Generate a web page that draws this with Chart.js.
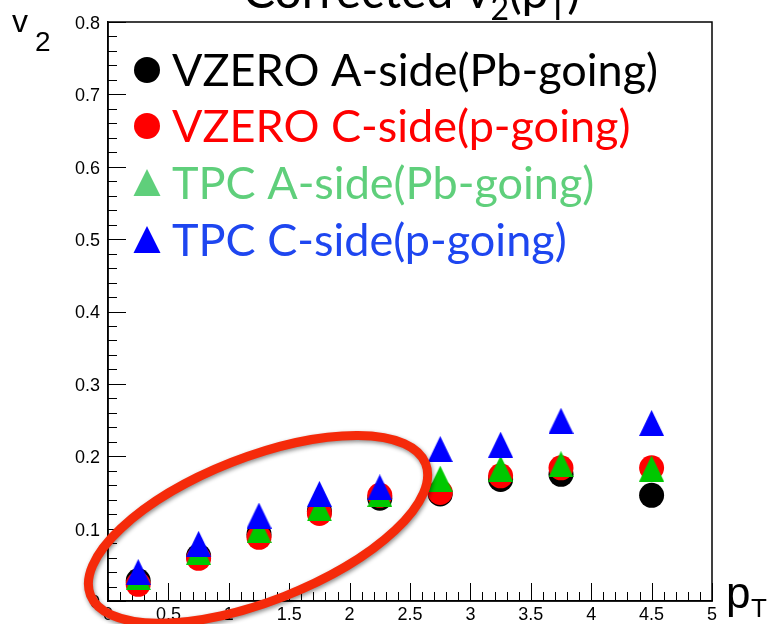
<!DOCTYPE html>
<html>
<head>
<meta charset="utf-8">
<title>Corrected v2(pT)</title>
<script src="https://cdn.jsdelivr.net/npm/chart.js@4.4.1/dist/chart.umd.min.js"></script>
<style>
  html, body { margin: 0; padding: 0; background: #fff; overflow: hidden; }
  canvas { display: block; }
</style>
</head>
<body>
<canvas id="c" width="769" height="624"></canvas>
<script>
// pT bin centres (GeV/c) and v2 per method
const ptBins   = [0.25, 0.75, 1.25, 1.75, 2.25, 2.75, 3.25, 3.75, 4.5];
const v2VzeroA = [0.028, 0.062, 0.092, 0.124, 0.142, 0.148, 0.168, 0.175, 0.146];
const v2VzeroC = [0.023, 0.059, 0.088, 0.121, 0.146, 0.150, 0.173, 0.184, 0.184];
const v2TpcA   = [0.033, 0.068, 0.098, 0.128, 0.148, 0.169, 0.183, 0.189, 0.183];
const v2TpcC   = [0.040, 0.079, 0.118, 0.148, 0.157, 0.210, 0.216, 0.249, 0.246];

const seriesLabels = [
  'VZERO A-side(Pb-going)',
  'VZERO C-side(p-going)',
  'TPC A-side(Pb-going)',
  'TPC C-side(p-going)'
];
const xTickLabels = ['0', '0.5', '1', '1.5', '2', '2.5', '3', '3.5', '4', '4.5', '5'];
const yTickLabels = ['0', '0.1', '0.2', '0.3', '0.4', '0.5', '0.6', '0.7', '0.8'];

// ---- marker sprites -------------------------------------------------------
function triangleSprite(color, w, h) {
  const cv = document.createElement('canvas');
  cv.width = w; cv.height = h;
  const g = cv.getContext('2d');
  g.fillStyle = color;
  g.beginPath();
  g.moveTo(w / 2, 0);
  g.lineTo(w, h);
  g.lineTo(0, h);
  g.closePath();
  g.fill();
  return cv;
}
const triGreen = triangleSprite('#00c800', 25, 26);
const triBlue  = triangleSprite('#0000ff', 25, 26);

const legendStyle = [
  { text: '#000000', marker: '#000000', shape: 'circle' },
  { text: '#ff0000', marker: '#ff0000', shape: 'circle' },
  { text: '#5fcf7b', marker: '#5fcf7b', shape: 'triangle' },
  { text: '#1e46f0', marker: '#0000ff', shape: 'triangle' }
];

const toPoints = ys => ptBins.map((x, i) => ({ x, y: ys[i] }));

// ---- frame and inward ticks ----------------------------------------------
const framePlugin = {
  id: 'frame',
  beforeDatasetsDraw(chart) {
    const { ctx, chartArea: a, scales: { x, y } } = chart;
    ctx.save();
    ctx.strokeStyle = '#000';
    ctx.lineWidth = 1;
    // x ticks: major every 0.5, minor every 0.1
    for (let i = 0; i <= 50; i++) {
      const px = Math.round(x.getPixelForValue(i / 10)) + 0.5;
      const len = (i % 5 === 0) ? 18 : 9;
      ctx.beginPath();
      ctx.moveTo(px, a.bottom);
      ctx.lineTo(px, a.bottom - len);
      ctx.stroke();
    }
    // y ticks: major every 0.1, minor every 0.02
    for (let i = 0; i <= 40; i++) {
      const py = Math.round(y.getPixelForValue(i / 50)) + 0.5;
      const len = (i % 5 === 0) ? 18 : 9;
      ctx.beginPath();
      ctx.moveTo(a.left, py);
      ctx.lineTo(a.left + len, py);
      ctx.stroke();
    }
    ctx.lineWidth = 1.5;
    ctx.strokeRect(a.left, a.top, a.right - a.left, a.bottom - a.top);
    ctx.restore();
  }
};

// ---- legend, titles, highlight ring --------------------------------------
const decorPlugin = {
  id: 'decor',
  afterDatasetsDraw(chart) {
    const { ctx } = chart;
    ctx.save();

    // legend
    const rowY = [70, 126, 183, 240];
    ctx.font = '45px Lato';
    ctx.textBaseline = 'alphabetic';
    ctx.textAlign = 'left';
    seriesLabels.forEach((label, i) => {
      const st = legendStyle[i];
      const cy = rowY[i];
      ctx.fillStyle = st.marker;
      if (st.shape === 'circle') {
        ctx.beginPath();
        ctx.arc(147, cy, 13, 0, Math.PI * 2);
        ctx.fill();
      } else {
        ctx.beginPath();
        ctx.moveTo(147, cy - 14);
        ctx.lineTo(160.5, cy + 13);
        ctx.lineTo(133.5, cy + 13);
        ctx.closePath();
        ctx.fill();
      }
      ctx.fillStyle = st.text;
      ctx.fillText(label, 172, cy + 16);
    });

    // main title (runs off the top edge)
    ctx.fillStyle = '#000';
    let tx = 243;
    const mainBase = 8, subBase = 20;
    const parts = [
      ['Corrected v', '48px Lato', mainBase],
      ['2', '32px Lato', subBase],
      ['(p', '48px Lato', mainBase],
      ['T', '32px Lato', subBase],
      [')', '48px Lato', mainBase]
    ];
    parts.forEach(([t, f, b]) => {
      ctx.font = f;
      ctx.fillText(t, tx, b);
      tx += ctx.measureText(t).width;
    });

    // axis titles
    ctx.font = '32px "Liberation Sans"';
    ctx.fillText('v', 12, 32);
    ctx.font = '28px "Liberation Sans"';
    ctx.fillText('2', 35, 51);
    ctx.font = '44px "Liberation Sans"';
    ctx.fillText('p', 726, 608);
    ctx.font = '26px "Liberation Sans"';
    ctx.fillText('T', 751, 617);
    ctx.restore();
  },
  afterDraw(chart) {
    // red ring around the low-pT points
    const { ctx, scales: { x, y } } = chart;
    const cx = x.getPixelForValue(1.242);
    const cy = y.getPixelForValue(0.099);
    ctx.save();
    ctx.shadowColor = 'rgba(0,0,0,0.45)';
    ctx.shadowBlur = 4;
    ctx.shadowOffsetX = 1;
    ctx.shadowOffsetY = 2;
    ctx.strokeStyle = '#f52a0a';
    ctx.lineWidth = 9;
    ctx.beginPath();
    ctx.ellipse(cx, cy, 180, 72, -21.4 * Math.PI / 180, 0, Math.PI * 2);
    ctx.stroke();
    ctx.restore();
  }
};

new Chart(document.getElementById('c'), {
  type: 'scatter',
  data: {
    datasets: [
      { label: seriesLabels[0], data: toPoints(v2VzeroA), backgroundColor: '#000000',
        borderWidth: 0, pointStyle: 'circle', pointRadius: 12.5, order: 4 },
      { label: seriesLabels[1], data: toPoints(v2VzeroC), backgroundColor: '#ff0000',
        borderWidth: 0, pointStyle: 'circle', pointRadius: 12.5, order: 3 },
      { label: seriesLabels[2], data: toPoints(v2TpcA), backgroundColor: '#00c800',
        borderWidth: 0, pointStyle: triGreen, pointRadius: 13, order: 2 },
      { label: seriesLabels[3], data: toPoints(v2TpcC), backgroundColor: '#0000ff',
        borderWidth: 0, pointStyle: triBlue, pointRadius: 13, order: 1 }
    ]
  },
  options: {
    responsive: false,
    animation: false,
    devicePixelRatio: 1,
    layout: { padding: { top: 22, right: 57, left: 0, bottom: 0 } },
    plugins: {
      legend: { display: false },
      title: { display: false },
      tooltip: { enabled: false }
    },
    scales: {
      x: {
        type: 'linear', min: 0, max: 5,
        grid: { display: false, drawTicks: false },
        border: { display: true, color: '#000', width: 1.5 },
        ticks: {
          stepSize: 0.5, autoSkip: false, padding: 3, color: '#000',
          font: { family: '"Liberation Sans"', size: 18 },
          callback: (v, i) => xTickLabels[i]
        },
        afterFit: s => { s.height = 23; }
      },
      y: {
        type: 'linear', min: 0, max: 0.8,
        grid: { display: false, drawTicks: false },
        border: { display: true, color: '#000', width: 1.5 },
        ticks: {
          stepSize: 0.1, autoSkip: false, padding: 8, color: '#000', labelOffset: 2,
          font: { family: '"Liberation Sans"', size: 18 },
          callback: (v, i) => yTickLabels[i]
        },
        afterFit: s => { s.width = 108; }
      }
    }
  },
  plugins: [framePlugin, decorPlugin]
});
</script>
</body>
</html>
